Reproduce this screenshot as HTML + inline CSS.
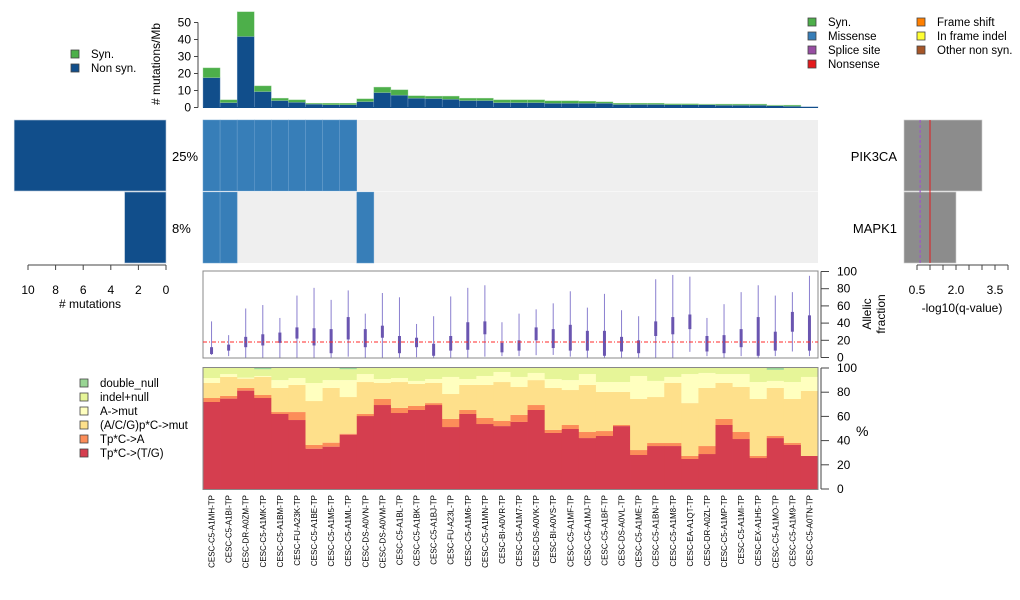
<!DOCTYPE html>
<html><head><meta charset="utf-8"><style>
html,body{margin:0;padding:0;background:#fff}
svg{display:block;font-family:"Liberation Sans",sans-serif}
</style></head><body>
<svg id="c" width="1020" height="600" viewBox="0 0 1020 600"></svg>
<script>
const samples=["CESC-C5-A1MH-TP","CESC-C5-A1BI-TP","CESC-DR-A0ZM-TP","CESC-C5-A1MK-TP","CESC-C5-A1BM-TP","CESC-FU-A23K-TP","CESC-C5-A1BE-TP","CESC-C5-A1M5-TP","CESC-C5-A1ML-TP","CESC-DS-A0VN-TP","CESC-DS-A0VM-TP","CESC-C5-A1BL-TP","CESC-C5-A1BK-TP","CESC-C5-A1BJ-TP","CESC-FU-A23L-TP","CESC-C5-A1M6-TP","CESC-C5-A1MN-TP","CESC-BI-A0VR-TP","CESC-C5-A1M7-TP","CESC-DS-A0VK-TP","CESC-BI-A0VS-TP","CESC-C5-A1MF-TP","CESC-C5-A1MJ-TP","CESC-C5-A1BF-TP","CESC-DS-A0VL-TP","CESC-C5-A1ME-TP","CESC-C5-A1BN-TP","CESC-C5-A1M8-TP","CESC-EA-A1QT-TP","CESC-DR-A0ZL-TP","CESC-C5-A1MP-TP","CESC-C5-A1MI-TP","CESC-EX-A1H5-TP","CESC-C5-A1MO-TP","CESC-C5-A1M9-TP","CESC-C5-A0TN-TP"];
const nonSyn=[17.6,2.9,41.8,9.4,4.1,3.1,2.0,1.6,1.6,3.5,8.8,7.3,5.5,5.3,4.9,4.1,4.1,2.9,2.9,2.9,2.5,2.5,2.5,2.5,1.8,1.8,1.8,1.6,1.6,1.6,1.4,1.4,1.4,1.0,0.8,0.4];
const syn=[5.7,1.6,14.5,3.3,1.4,1.4,0.5,0.9,0.9,1.6,3.2,3.1,1.4,1.4,1.8,1.4,1.4,1.6,1.6,1.6,1.4,1.4,1.2,0.8,0.7,0.7,0.7,0.6,0.6,0.4,0.6,0.6,0.6,0.4,0.6,0];
const genes=["PIK3CA","MAPK1"];
const genePct=["25%","8%"];
const geneCounts=[11,3];
const geneQ=[3.0,2.0];
const pik3caMut=[1,1,1,1,1,1,1,1,1,0,0,0,0,0,0,0,0,0,0,0,0,0,0,0,0,0,0,0,0,0,0,0,0,0,0,0];
const mapk1Mut=[1,1,0,0,0,0,0,0,0,1,0,0,0,0,0,0,0,0,0,0,0,0,0,0,0,0,0,0,0,0,0,0,0,0,0,0];
const afLow=[3,1.6,0,0,0,0,0,0,1,0,0,0,0.4,0,0,0,1,1.6,1.6,2.7,3,1,0,0,0,0,0,0,6.6,1.6,0,1.6,0,1.6,7,1.6];
const afHigh=[42,26,57,61,46,72,81,67,78,51,75,70,39,48,71,81,84,41,51,56,63,77,58,74,55,48,91,96,94,46,62,76,84,72,76,95];
const afQ1=[4,8,12,14,17,22,14,5,21,12,23,5,12,2,8,9,27,6,8,20,11,8,8,2,7,5,25,27,33,7,5,12,2,8,30,8];
const afQ3=[12,15,24,27,29,35,34,33,47,33,37,25,23,16,25,41,42,17,20,35,33,38,31,31,24,20,42,47,50,25,26,33,47,30,53,49];
const afRef=18;
// cumulative boundaries (%): Tp*C->(T/G), +Tp*C->A, +(A/C/G)p*C->mut, +A->mut, +indel+null
const cRed=[71.9,74.7,81.3,75.2,62,57,33.3,35,44.9,60.3,69.4,62.8,65.3,69.4,51.2,62,53.7,52,55.4,65.3,46.3,49.6,42.1,43.8,52,28.1,35.5,35.5,24.8,28.9,52.9,41.3,25.6,42.1,36.4,27.3];
const cOr=[75.2,76.9,83.5,77.7,63.6,63.6,36.4,38.3,45.7,62,74.4,67,68.6,71,57.9,65.3,58.7,56.2,61.2,69.4,48.8,52.9,47.1,47.9,52.9,32.2,38,38,27.3,35.5,57.9,47.1,27.3,43.8,38,27.3];
const cLo=[87.6,92.6,91.2,92.6,83.5,86,72.7,83.5,76,88.4,87.6,88.4,86.8,87.6,78.5,86,86,88.4,84.3,90,83.5,81.8,86,80.2,80.2,74.4,76,87.6,71,83.5,87.6,84.3,74.4,83.5,74.4,81];
const cYe=[91.7,95,92,93.4,90,91.7,87.6,90,90,95,90.9,91.7,89.3,90.9,92.6,90.9,93.4,96.7,92.6,95.9,90.9,90,95,88.4,88.4,93.4,89.3,92.6,95,95.9,95,95,88.4,89.3,88.4,92.6];
const cIn=[100,100,100,99,100,100,100,100,99,100,100,100,100,100,100,100,100,100,100,100,100,100,100,100,100,100,100,100,100,100,100,100,100,98.5,100,100];

const NS="http://www.w3.org/2000/svg";
const svg=document.getElementById('c');
function mk(tag,attrs,parent){const e=document.createElementNS(NS,tag);for(const k in attrs)e.setAttribute(k,attrs[k]);(parent||svg).appendChild(e);return e;}
function txt(s,attrs,parent){const e=mk('text',attrs,parent);e.textContent=s;return e;}

const X0=203,X1=818,N=samples.length,W=(X1-X0)/N;
const xs=i=>X0+i*W;
// top bar chart
const yTop=v=>107.5-v*1.7;
const gTop=mk('g',{});


for(let i=0;i<N;i++){
  const r1=mk('rect',{x:xs(i),y:yTop(nonSyn[i]),width:W,height:yTop(0)-yTop(nonSyn[i]),fill:'#114e8b',stroke:'#7fa3c8','stroke-width':0.4},gTop);
  
  
  const r2=mk('rect',{x:xs(i),y:yTop(nonSyn[i]+syn[i]),width:W,height:yTop(nonSyn[i])-yTop(nonSyn[i]+syn[i]),fill:'#4daf4a',stroke:'#9fd39d','stroke-width':0.4},gTop);
  
  
}
mk('line',{x1:X0,x2:X1,y1:107.5,y2:107.5,stroke:'#114e8b','stroke-width':1});
mk('line',{x1:198,x2:198,y1:yTop(0),y2:yTop(50),stroke:'#444'});
[0,10,20,30,40,50].forEach(t=>{mk('line',{x1:194,x2:198,y1:yTop(t),y2:yTop(t),stroke:'#444'});txt(t,{x:191,y:yTop(t)+4,'font-size':12,'text-anchor':'end'});});
const yl=txt('# mutations/Mb',{x:0,y:0,'font-size':12,'text-anchor':'middle',transform:'translate(160,64) rotate(-90)'});


// legends
function legend(items,x,y,dy,name){const g=mk('g',{});
 items.forEach((it,k)=>{mk('rect',{x:x,y:y+k*dy-4,width:8,height:8,fill:it[1],stroke:'#444','stroke-width':0.8},g);txt(it[0],{x:x+20,y:y+k*dy+4,'font-size':11.5},g);});}
legend([["Syn.","#4daf4a"],["Non syn.","#114e8b"]],71,54,14,'rate-legend');
legend([["Syn.","#4daf4a"],["Missense","#377eb8"],["Splice site","#984ea3"],["Nonsense","#e41a1c"]],808,22,14,'mutation-type-legend');
legend([["Frame shift","#ff7f00"],["In frame indel","#ffff33"],["Other non syn.","#a65628"]],917,22,14,'mutation-type-legend-2');
legend([["double_null","#99d594"],["indel+null","#e6f598"],["A->mut","#ffffbf"],["(A/C/G)p*C->mut","#fee08b"],["Tp*C->A","#fc8d59"],["Tp*C->(T/G)","#d53e4f"]],80,383,14,'spectrum-legend');

// matrix
const rowY=[120,192],rowH=71;
const gm=mk('g',{});
mk('rect',{x:X0,y:120,width:X1-X0,height:143,fill:'#efefef'},gm);
[pik3caMut,mapk1Mut].forEach((arr,r)=>{arr.forEach((m,i)=>{if(m){const c=mk('rect',{x:xs(i),y:rowY[r],width:W,height:rowH,fill:'#377eb8',stroke:'#6fa2d0','stroke-width':0.5},gm);}});});
mk('line',{x1:X0,x2:X1,y1:191.5,y2:191.5,stroke:'#fff','stroke-width':1,opacity:0.5},gm);

// left gene count bars
const xL=v=>166-v*13.8;
genes.forEach((g,r)=>{const b=mk('rect',{x:xL(geneCounts[r]),y:rowY[r],width:166-xL(geneCounts[r]),height:rowH,fill:'#114e8b',stroke:'#b8c8da','stroke-width':0.6});
 
 txt(genePct[r],{x:172,y:rowY[r]+41,'font-size':13});});
mk('line',{x1:xL(10),x2:xL(0),y1:265,y2:265,stroke:'#444'});
[10,8,6,4,2,0].forEach(t=>{mk('line',{x1:xL(t),x2:xL(t),y1:265,y2:270,stroke:'#444'});txt(t,{x:xL(t),y:294,'font-size':12,'text-anchor':'middle'});});
txt('# mutations',{x:90,y:308,'font-size':12,'text-anchor':'middle'});

// right q-value bars
const xR=v=>904+v*26;
genes.forEach((g,r)=>{const b=mk('rect',{x:xR(0),y:rowY[r],width:xR(geneQ[r])-xR(0),height:rowH,fill:'#8c8c8c',stroke:'#cfcfcf','stroke-width':0.6});
 
 txt(g,{x:897,y:rowY[r]+41,'font-size':13,'text-anchor':'end'});});
mk('line',{x1:xR(0.62),x2:xR(0.62),y1:120,y2:263,stroke:'#9b59c6','stroke-width':1.2,'stroke-dasharray':'3,2'});
mk('line',{x1:xR(1),x2:xR(1),y1:120,y2:263,stroke:'#e41a1c','stroke-width':1});
mk('line',{x1:xR(0.5),x2:xR(4),y1:265,y2:265,stroke:'#444'});
for(let t=0.5;t<=4.01;t+=0.5){mk('line',{x1:xR(t),x2:xR(t),y1:265,y2:270,stroke:'#444'});}
[0.5,2.0,3.5].forEach(t=>txt(t.toFixed(1),{x:xR(t),y:294,'font-size':12,'text-anchor':'middle'}));
txt('-log10(q-value)',{x:962,y:312,'font-size':12,'text-anchor':'middle'});

// allelic fraction
const yAF=v=>357.5-v*0.86;
const ga=mk('g',{});
mk('rect',{x:X0,y:271,width:X1-X0,height:87,fill:'none',stroke:'#888','stroke-width':1},ga);
for(let i=0;i<N;i++){const cx=xs(i)+W/2;
 const w=mk('line',{x1:cx,x2:cx,y1:yAF(afLow[i]),y2:yAF(afHigh[i]),stroke:'#8a7fcf','stroke-width':1},ga);
 
 const b=mk('rect',{x:cx-1.5,y:yAF(afQ3[i]),width:3,height:yAF(afQ1[i])-yAF(afQ3[i]),fill:'#6a55b0'},ga);
 }
mk('line',{x1:X0,x2:X1,y1:yAF(afRef),y2:yAF(afRef),stroke:'#ff2a2a','stroke-width':1,'stroke-dasharray':'4,2,1,2'},ga);
mk('line',{x1:821,x2:821,y1:yAF(0),y2:yAF(100),stroke:'#444'});
[0,20,40,60,80,100].forEach(t=>{mk('line',{x1:821,x2:829,y1:yAF(t),y2:yAF(t),stroke:'#444'});txt(t,{x:837,y:yAF(t)+4,'font-size':12});});
txt('Allelic',{x:0,y:0,'font-size':12,'text-anchor':'middle',transform:'translate(871,314) rotate(-90)'});
txt('fraction',{x:0,y:0,'font-size':12,'text-anchor':'middle',transform:'translate(885,314) rotate(-90)'});

// spectrum
const yS=v=>489-v*1.21;
const gs=mk('g',{});
const layers=[[null,cRed,'#d53e4f'],[cRed,cOr,'#fc8d59'],[cOr,cLo,'#fee08b'],[cLo,cYe,'#ffffbf'],[cYe,cIn,'#e6f598'],[cIn,null,'#99d594']];
for(let i=0;i<N;i++){layers.forEach(L=>{const lo=L[0]?L[0][i]:0,hi=L[1]?L[1][i]:100;if(hi>lo){
 const r=mk('rect',{x:xs(i),y:yS(hi),width:W+0.4,height:yS(lo)-yS(hi),fill:L[2]},gs);
 }});}
mk('rect',{x:X0,y:367.5,width:X1-X0,height:122,fill:'none',stroke:'#888','stroke-width':1},gs);
mk('line',{x1:821,x2:821,y1:yS(0),y2:yS(100),stroke:'#444'});
[0,20,40,60,80,100].forEach(t=>{mk('line',{x1:821,x2:829,y1:yS(t),y2:yS(t),stroke:'#444'});txt(t,{x:837,y:yS(t)+4,'font-size':12});});
txt('%',{x:856,y:436,'font-size':14});

// sample labels
samples.forEach((s,i)=>{const t=txt(s,{x:0,y:0,'font-size':8,'text-anchor':'end',transform:`translate(${xs(i)+W/2+3},495) rotate(-90)`});
 });
</script>
</body></html>
